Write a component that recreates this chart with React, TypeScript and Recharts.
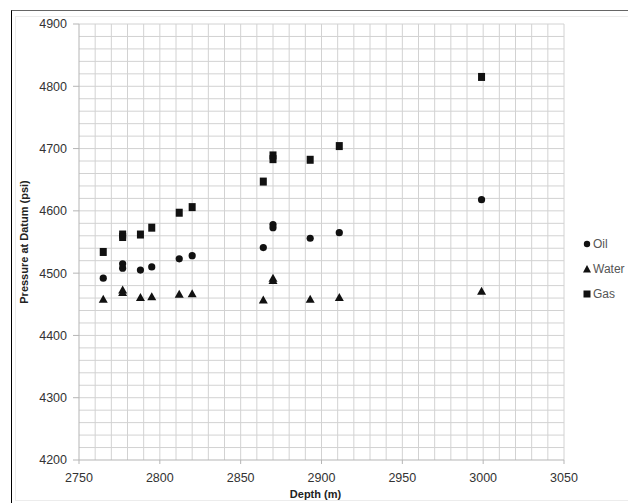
import React from 'react';
import { ScatterChart, Scatter, XAxis, YAxis, CartesianGrid, Legend, Label } from 'recharts';

// depth of each pressure test (m)
const depths = [2765, 2777, 2777, 2788, 2795, 2812, 2820, 2864, 2870, 2870, 2893, 2911, 2999];
// pressure at datum (psi) per phase gradient
const oilPressure = [4492, 4515, 4508, 4505, 4510, 4523, 4528, 4541, 4578, 4573, 4556, 4565, 4618];
const waterPressure = [4458, 4473, 4469, 4461, 4462, 4466, 4467, 4457, 4492, 4488, 4458, 4461, 4471];
const gasPressure = [4534, 4562, 4558, 4562, 4573, 4597, 4606, 4647, 4689, 4683, 4682, 4704, 4815];

const seriesNames = ['Oil', 'Water', 'Gas'];

const xTicks = [2750, 2800, 2850, 2900, 2950, 3000, 3050];
const yTicks = [4200, 4300, 4400, 4500, 4600, 4700, 4800, 4900];
const xGrid = [
  2760, 2770, 2780, 2790, 2800, 2810, 2820, 2830, 2840, 2850, 2860, 2870, 2880, 2890, 2900,
  2910, 2920, 2930, 2940, 2950, 2960, 2970, 2980, 2990, 3000, 3010, 3020, 3030, 3040, 3050,
];
const yGrid = [
  4220, 4240, 4260, 4280, 4300, 4320, 4340, 4360, 4380, 4400, 4420, 4440, 4460, 4480, 4500,
  4520, 4540, 4560, 4580, 4600, 4620, 4640, 4660, 4680, 4700, 4720, 4740, 4760, 4780, 4800,
  4820, 4840, 4860, 4880, 4900,
];

const toPoints = (vals: number[]) => depths.map((d, i) => ({ depth: d, pressure: vals[i] }));
const oilData = toPoints(oilPressure);
const waterData = toPoints(waterPressure);
const gasData = toPoints(gasPressure);

const MARK = '#111';

const OilDot = (p: any) => <circle cx={p.cx} cy={p.cy} r={3.6} fill={MARK} />;
const WaterTri = (p: any) => (
  <path d={`M${p.cx},${p.cy - 4.5}L${p.cx + 4.5},${p.cy + 3.5}L${p.cx - 4.5},${p.cy + 3.5}Z`} fill={MARK} />
);
const GasSq = (p: any) => <rect x={p.cx - 3.5} y={p.cy - 4} width={7} height={8} fill={MARK} />;

const LegendIcon = ({ type }: { type: string }) => (
  <svg width={8} height={8} style={{ marginRight: 2 }}>
    {type === 'circle' && <circle cx={4} cy={4} r={3.2} fill={MARK} />}
    {type === 'triangle' && <path d="M4,0L8,7.5L0,7.5Z" fill={MARK} />}
    {type === 'square' && <rect x={0.5} y={0.5} width={7} height={7} fill={MARK} />}
  </svg>
);

const renderLegend = (props: any) => {
  const items = [...(props.payload || [])].sort(
    (a: any, b: any) => seriesNames.indexOf(a.value) - seriesNames.indexOf(b.value)
  );
  return (
    <div>
      {items.map((item: any) => (
        <div key={item.value} style={{ height: 25, display: 'flex', alignItems: 'center', whiteSpace: 'nowrap' }}>
          <LegendIcon type={item.type} />
          <span style={{ fontSize: 12, color: '#555' }}>{item.value}</span>
        </div>
      ))}
    </div>
  );
};

const YTitle = (props: any) => {
  const vb = props.viewBox || { x: 0, y: 0, width: 0, height: 0 };
  const cx = vb.x + 24;
  const cy = vb.y + vb.height / 2;
  return (
    <text x={cx} y={cy} transform={`rotate(-90 ${cx} ${cy})`} textAnchor="middle" dominantBaseline="central"
      fontSize={11} fontWeight="bold" fill="#222">
      Pressure at Datum (psi)
    </text>
  );
};

export default function App() {
  return (
    <div style={{ position: 'fixed', left: 0, top: 0, width: 628, height: 503, overflow: 'hidden', background: '#fff',
      fontFamily: '"Liberation Sans", Arial, sans-serif' }}>
      <div style={{ position: 'absolute', left: 15, top: 16, width: 640, height: 483, border: '1px solid #ececec' }} />
      <div style={{ position: 'absolute', left: 11, top: 10, width: 640, height: 520, borderLeft: '1px solid #000', borderTop: '1px solid #666' }} />
      <div style={{ position: 'absolute', left: 0, top: 0 }}>
        <ScatterChart width={628} height={503} margin={{ top: 24, right: 64, bottom: 0, left: 0 }}>
          <CartesianGrid stroke="#d2d2d2" horizontalValues={yGrid} verticalValues={xGrid} />
          <XAxis type="number" dataKey="depth" domain={[2750, 3050]} ticks={xTicks} interval={0}
            height={43} tickSize={4} tickMargin={9} stroke="#b5b5b5"
            tick={{ fill: '#333', fontSize: 12.5 }}>
            <Label value="Depth (m)" position="insideBottom" offset={5} dx={-6}
              style={{ fontSize: 11, fontWeight: 'bold', fill: '#222' }} />
          </XAxis>
          <YAxis type="number" dataKey="pressure" domain={[4200, 4900]} ticks={yTicks} interval={0}
            width={79} tickSize={6} tickMargin={6} stroke="#b5b5b5"
            tick={{ fill: '#333', fontSize: 12.5 }}>
            <Label content={YTitle} />
          </YAxis>
          <Legend layout="vertical" align="center" verticalAlign="middle" content={renderLegend}
            wrapperStyle={{ left: 583, top: 231, width: 60 }} />
          <Scatter name="Oil" data={oilData} shape={OilDot} legendType="circle" fill={MARK} isAnimationActive={false} />
          <Scatter name="Water" data={waterData} shape={WaterTri} legendType="triangle" fill={MARK} isAnimationActive={false} />
          <Scatter name="Gas" data={gasData} shape={GasSq} legendType="square" fill={MARK} isAnimationActive={false} />
        </ScatterChart>
      </div>
    </div>
  );
}
